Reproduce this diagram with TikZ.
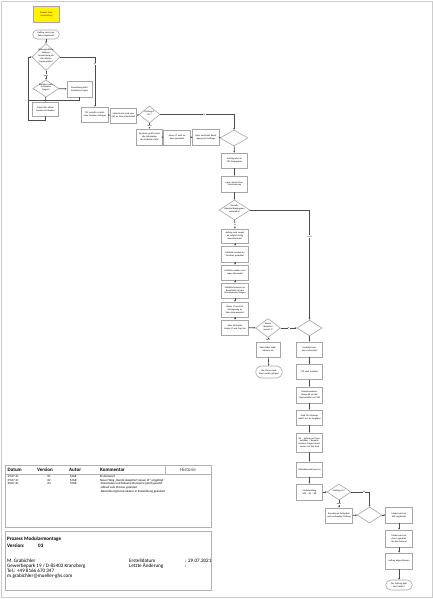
\documentclass[tikz,border=0pt]{standalone}
\usepackage{fontspec}
\setmainfont{Carlito}
\usetikzlibrary{shapes.geometric,arrows.meta}
\newcommand{\dtx}[2]{\makebox[0pt]{\smash{\parbox[c]{#1}{\centering #2}}}}
\begin{document}
\begin{tikzpicture}[x=1pt,y=-1pt,
  fc/.style={font=\fontsize{2.3}{2.85}\selectfont},
  box/.style={fc, rectangle, draw=black!35, line width=0.6pt, fill=white, inner sep=0pt,
    align=center, text width=23.5pt, minimum width=26.5pt},
  rnd/.style={box, rounded corners=#1},
  dia/.style={fc, diamond, draw=black!35, line width=0.6pt, fill=white, inner sep=0pt},
  conn/.style={draw=black!70, line width=0.6pt, -{Stealth[length=1.8pt,width=1.7pt]}},
  plain/.style={draw=black!70, line width=0.6pt},
  lbl/.style={fc, fill=white, inner sep=0.4pt},
  tbl/.style={draw=black!30, line width=0.6pt},
  th/.style={font=\fontsize{5}{6}\selectfont\bfseries, anchor=west, inner sep=0pt},
  tr/.style={font=\fontsize{3.1}{3.7}\selectfont, anchor=west, inner sep=0pt},
  ft/.style={font=\fontsize{5.1}{6}\selectfont, anchor=west, inner sep=0pt},
  ftb/.style={ft, font=\fontsize{5.1}{6}\selectfont\bfseries}
]
\useasboundingbox (0,0) rectangle (433,599);
\draw[draw=black!20, line width=0.9pt] (1,1) rectangle (432,597);

% ---- top part
\node[box, fill=yellow, minimum height=16, text=red!55!black] (title) at (46.5,14) {Prozess Modularmontage};
\node[rnd=4.5pt, minimum height=9] (start) at (46,34.5) {Auftrag wird vom Sales eingebucht};
\node[dia, minimum width=28, minimum height=27] (d1) at (46,57)
  {\dtx{16pt}{Allmorgendliche\\Auftrags-\\besprechung ob\\alle offenen\\Fragen geklärt?}};
\node[dia, minimum width=26, minimum height=17] (d2) at (46,88.5)
  {\dtx{14pt}{Bestehen noch\\technische\\Fragen?}};
\node[box, minimum width=25, minimum height=16] (entw) at (79.5,89) {Entwicklung klärt technische Fragen};
\node[box, minimum height=14] (salesk) at (45.5,109) {Sales klärt offene Punkte mit Kunden};
\node[box, minimum height=15] (csc) at (95,114.5) {CSC erstellt zu kritischen Punkten Anfragen};
\node[box, minimum height=15] (liefer) at (123.5,115.5) {Liefertermin wird vom CSC an Sales übermittelt};
\node[dia, minimum width=21, minimum height=17] (d3) at (149.5,114.5) {\dtx{12pt}{Prüfung LT\\i.O.?}};
\node[box, minimum height=16] (purch) at (149.5,137) {Purchase prüft erneut alle Lieferzeiten der kritischen Teile};
\node[box, minimum height=15] (neuerLT) at (177,137.5) {Neuer LT wird an Sales gemeldet};
\node[box, minimum height=16] (salesv) at (206,137) {Sales verschickt Bestätigung des Auftrags};
\node[dia, minimum width=28, minimum height=16] (d4) at (234,138) {};
\node[box, minimum height=15] (freig) at (234.5,160.5) {Auftrag wird an CSC freigegeben};
\node[box, minimum height=16] (lager) at (234.5,184) {Lager startet Kommissionierung};
\node[dia, minimum width=31, minimum height=20] (d5) at (234.5,210)
  {\dtx{24pt}{Sind alle\\Bauteile/Baugruppen\\vorhanden?}};
\node[box, minimum height=14] (b1) at (235,236) {Auftrag wird soweit als möglich fertig kommissioniert};
\node[box, minimum height=16] (b2) at (235,254) {Fehlteile werden an Purchase gemeldet};
\node[box, minimum height=15] (b3) at (235,272.5) {Fehlteile werden vom Lager überwacht};
\node[box, minimum height=15] (b4) at (235,290.5) {Fehlteile kommen im Bedarfsfall auf den Kommissionier-Wagen};
\node[box, minimum height=15] (b5) at (235,309.5) {Neuer LT wird bei Verzögerung an Sales kommuniziert};
\node[box, minimum height=15] (b6) at (235,327.5) {Sales informiert Kunde LT und fragt ab};
\node[dia, minimum width=25, minimum height=19] (d6) at (268,328) {\dtx{14pt}{Kunde\\akzeptiert\\neuen LT?}};
\node[dia, minimum width=25, minimum height=16] (d7) at (309.5,328) {};
\node[box, minimum width=24, minimum height=15] (massn) at (268,349.5) {Sales leitet Maßnahmen ein};
\node[rnd=6pt, minimum height=12] (storno) at (269,372) {Bei Storno wird Ware zurück gelagert};
\node[box, minimum width=25.5, minimum height=15] (c1) at (309.5,349.5) {Laufzettel werden vorbereitet};
\node[box, minimum width=25.5, minimum height=15] (c2) at (309.5,372) {CTS wird montiert};
\node[box, minimum width=25.5, minimum height=16] (c3) at (309.5,395) {Kommissionierer überprüft ob alle Typenschilder mit SAP};
\node[box, minimum width=25.5, minimum height=15] (c4) at (309.5,417.5) {Kraft für Montage erhält von AL Vorgaben};
\node[box, minimum width=25.5, minimum height=19] (c5) at (309.5,442.5) {QS – Auftrag mit Typenschilder – Kommissionierer Fragen beantworten auf die Kraft};
\node[box, minimum width=25.5, minimum height=15] (c6) at (309.5,469.5) {Fehlteilauswahl sperren};
\node[box, minimum width=25.5, minimum height=16] (c7) at (309.5,492) {Modulprüfung SAP – DF – BB};
\node[dia, minimum width=24, minimum height=16] (d8) at (339,492) {\dtx{14pt}{Prüfung i.O.?}};
\node[box, minimum height=15] (korr) at (339,515.5) {Korrekturen Fehlerliste und nochmalige Prüfung};
\node[dia, minimum width=25, minimum height=16] (d9) at (369.5,515) {};
\node[box, minimum height=16] (e1) at (399,515) {Modul wird auf SAP zugebucht};
\node[box, minimum height=17] (e2) at (399,538.5) {Modul wird auf dem Lagerplatz für den Versand};
\node[box, minimum height=16] (e3) at (399,561) {Auftrag abgeschlossen};
\node[rnd=5pt, minimum height=10] (ende) at (399,585) {Der Auftrag geht nach Halle C};

% ---- connectors
\draw[conn] (start) -- (d1);
\draw[conn] (d1) -- node[lbl]{nein} (d2);
\draw[conn] (d1.east) -| node[lbl,pos=0.57]{ja} (csc.north);
\draw[conn] (d2) -- (entw);
\draw[conn] (d2) -- (salesk);
\coordinate (lp) at (29,100);
\draw[conn] (salesk.south) -- ++(0,4) -| ([xshift=-3pt]d1.west) -- (d1.west);
\draw[plain] (entw.south) |- (lp);
\draw[conn] (csc) -- (liefer);
\draw[conn] (liefer) -- (d3);
\draw[conn] (d3) -- node[lbl]{nein} (purch);
\draw[conn] (d3.east) -| node[lbl,pos=0.3]{ja} (d4.north);
\draw[conn] (purch) -- (neuerLT);
\draw[conn] (neuerLT) -- (salesv);
\draw[conn] (salesv) -- (d4);
\draw[conn] (d4) -- (freig);
\draw[conn] (freig) -- (lager);
\draw[conn] (lager) -- (d5);
\draw[conn] (d5) -- node[lbl]{ja} (b1);
\draw[conn] (d5.east) -| node[lbl,pos=0.62]{nein} (d7.north);
\draw[conn] (b1) -- (b2);
\draw[conn] (b2) -- (b3);
\draw[conn] (b3) -- (b4);
\draw[conn] (b4) -- (b5);
\draw[conn] (b5) -- (b6);
\draw[conn] (b6) -- (d6);
\draw[conn] (d6) -- node[lbl]{ja} (d7);
\draw[conn] (d6) -- node[lbl]{nein} (massn);
\draw[conn] (massn) -- (storno);
\draw[conn] (d7) -- (c1);
\draw[conn] (c1) -- (c2);
\draw[conn] (c2) -- (c3);
\draw[conn] (c3) -- (c4);
\draw[conn] (c4) -- (c5);
\draw[conn] (c5) -- (c6);
\draw[conn] (c6) -- (c7);
\draw[conn] (c7) -- (d8);
\draw[conn] (d8.east) -| node[lbl,pos=0.35]{ja} (d9.north);
\draw[conn] (d8) -- node[lbl]{nein} (korr);
\draw[conn] (korr) -- (d9);
\draw[conn] (d9) -- (e1);
\draw[conn] (e1) -- (e2);
\draw[conn] (e2) -- (e3);
\draw[conn] (e3) -- (ende);

% ---- history table
\draw[tbl] (5,465) rectangle (211,527);
\draw[tbl] (5,474) -- (211,474);
\draw[tbl] (165,465) rectangle (211,474);
\node[th] (hd) at (7.5,469.5) {Datum};
\node[th] (hv) at (37,469.5) {Version};
\node[th] (ha) at (69,469.5) {Autor};
\node[th] (hk) at (100,469.5) {Kommentar};
\node[font=\fontsize{5}{6}\selectfont, text=black!75, inner sep=0pt] (hh) at (188,469.5) {Historie};
\node[tr] (r1d) at (7.5,476.5) {29.07.21};
\node[tr] (r2d) at (7.5,480.2) {29.07.21};
\node[tr] (r3d) at (7.5,483.9) {30.07.21};
\node[tr, anchor=east] (r1v) at (51,476.5) {01};
\node[tr, anchor=east] (r2v) at (51,480.2) {02};
\node[tr, anchor=east] (r3v) at (51,483.9) {03};
\node[tr] (r1a) at (70,476.5) {MGR};
\node[tr] (r2a) at (70,480.2) {MGR};
\node[tr] (r3a) at (70,483.9) {MGR};
\node[tr] (r1k) at (100,476.5) {Erstentwurf};
\node[tr] (r2k) at (100,480.2) {Neuer Weg „Kunde akzeptiert neuen LT“ eingefügt};
\node[tr] (r3k) at (100,483.9) {-Dateiname und Dokumentenname gleich gesetzt};
\node[tr] (r4k) at (100,487.6) {-Ablauf zum Prozess geändert};
\node[tr] (r5k) at (100,491.3) {-Bezeichnung Konstrukteur in Entwicklung geändert};

% ---- footer box
\draw[tbl] (5,531) rectangle (211,590.5);
\node[ftb] (fp) at (7,538.7) {Prozess Modularmontage};
\node[ftb] (fv) at (7,546) {Version:};
\node[ftb] (fvn) at (38,546) {03};
\node[ft] (f1) at (7,561) {M. Grabichler};
\node[ft] (f2) at (7,566) {Gewerbepark 19 / D-85402 Kranzberg};
\node[ft] (f3) at (7,571) {Tel.: +49 8166 670 347};
\node[ft] (f4) at (7,576) {m.grabichler@mueller-ghs.com};
\node[ft] (f5) at (129,561) {Erstelldatum};
\node[ft] (f6) at (185,561) {: 29.07.2021};
\node[ft] (f7) at (129,566) {Letzte Änderung};
\node[ft] (f8) at (185,566) {:};
\end{tikzpicture}
\end{document}
